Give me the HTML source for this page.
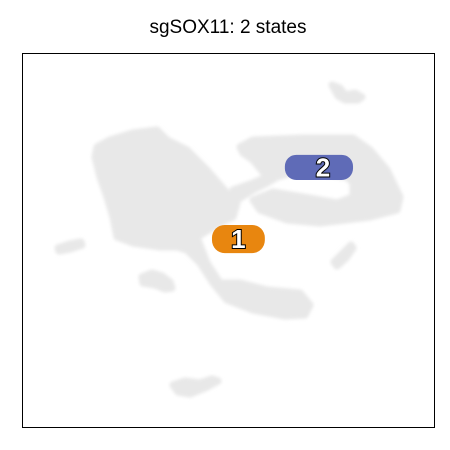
<!DOCTYPE html>
<html><head><meta charset="utf-8"><style>
body{margin:0;background:#fff;}
svg{display:block;font-family:"Liberation Sans",Arial,sans-serif;}
</style></head><body>
<svg id="chart" width="450" height="450" viewBox="0 0 450 450">
<defs><filter id="soft" x="-10%" y="-10%" width="120%" height="120%"><feGaussianBlur stdDeviation="1.5"/></filter></defs>
<text x="228" y="33" text-anchor="middle" font-size="19" fill="#000">sgSOX11: 2 states</text>
<g fill="#e8e8e8" stroke="#e8e8e8" stroke-width="7" stroke-linejoin="round" filter="url(#soft)">
<path d="M97,147 L110,140 L133,133 L157,130 L167,140 L187,150 L207,170 L227,193 L237,203 L233,217 L220,223 L197,237 L207,263 L220,283 L240,283 L267,290 L300,293 L310,305 L305,315 L285,316 L253,310 L227,300 L213,283 L200,263 L187,250 L177,247 L160,247 L133,243 L117,237 L113,217 L107,197 L100,177 L95,157 Z"/>
<path d="M240,147 L253,140 L303,138 L353,138 L370,150 L387,170 L400,197 L397,210 L370,217 L320,223 L287,220 L260,210 L253,200 L273,192 L303,197 L337,203 L353,197 L353,183 L347,177 L303,170 L277,177 L267,183 L253,190 L237,200 L233,190 L253,183 L267,177 L253,160 L243,153 Z"/>
<path d="M332,85 L340,88 L345,95 L355,93 L362,97 L358,100 L345,100 L338,96 Z"/>
<path d="M58,248 L70,244 L81,242 L82,245 L70,249 L59,251 Z"/>
<path d="M142,277 L152,273 L162,276 L170,282 L172,288 L165,289 L155,285 L143,283 Z"/>
<path d="M334,262 L343,253 L351,245 L353,248 L346,258 L337,266 Z"/>
<path d="M173,385 L185,381 L200,383 L212,379 L218,381 L205,388 L190,394 L178,392 Z"/>
</g>
<g id="marks"></g>
<rect x="22.5" y="53.5" width="412" height="374" fill="none" stroke="#000" stroke-width="1"/>
</svg>
<script>
const stateLabels = ["1", "2"];
const stateX = [52.4, 71.9];
const stateY = [50.4, 69.5];
const stateWidth = [12.8, 16.5];
const stateHeight = [7.5, 6.7];
const stateColors = ["#e8860f", "#5f6bb7"];

const px0 = 22, px1 = 435, py0 = 428, py1 = 53;
function xScale(v){ return px0 + (v/100)*(px1-px0); }
function yScale(v){ return py0 - (v/100)*(py0-py1); }
const NS = "http://www.w3.org/2000/svg";
const g = document.getElementById("marks");
for (let i = 0; i < stateLabels.length; i++) {
  const cx = xScale(stateX[i]), cy = yScale(stateY[i]);
  const w = (stateWidth[i]/100)*(px1-px0), h = (stateHeight[i]/100)*(py0-py1);
  const e = document.createElementNS(NS, "rect");
  e.setAttribute("x", cx - w/2); e.setAttribute("y", cy - h/2);
  e.setAttribute("width", w); e.setAttribute("height", h);
  e.setAttribute("rx", h/2.2); e.setAttribute("ry", h/2.2);
  e.setAttribute("fill", stateColors[i]);
  
  
  g.appendChild(e);
  const t = document.createElementNS(NS, "text");
  t.setAttribute("x", cx + (i === 1 ? 4 : 0)); t.setAttribute("y", cy + 9);
  t.setAttribute("text-anchor", "middle");
  t.setAttribute("font-size", "26"); t.setAttribute("font-weight", "bold");
  t.setAttribute("fill", "#fff"); t.setAttribute("stroke", "#000");
  t.setAttribute("stroke-width", "2"); t.setAttribute("paint-order", "stroke");
  t.textContent = stateLabels[i];
  
  
  g.appendChild(t);
}
</script>
</body></html>
